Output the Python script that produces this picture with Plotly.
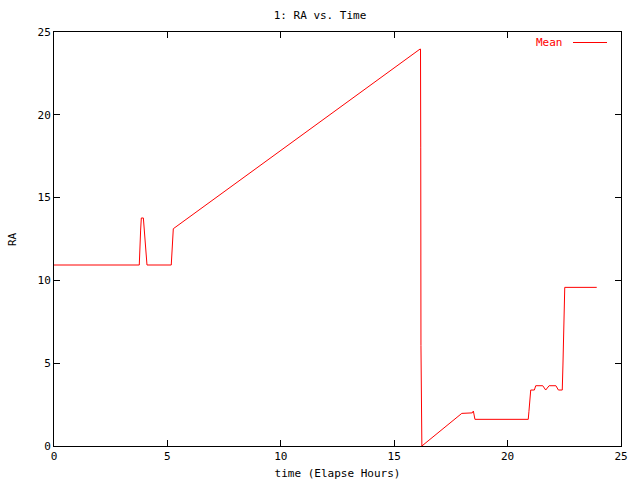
import plotly.graph_objects as go

time_h = [0.0, 3.76, 3.82, 3.85, 3.94, 3.98, 4.10, 5.17, 5.19, 5.26,
          16.14, 16.16, 16.17, 16.18, 16.22,
          17.98, 18.44, 18.49, 18.56, 20.91, 20.94, 20.99, 21.02, 21.18,
          21.24, 21.55, 21.68, 21.83, 22.13, 22.24, 22.41, 22.44, 22.49,
          22.52, 23.93]
ra_mean = [10.93, 10.93, 13.04, 13.77, 13.77, 13.04, 10.93, 10.93, 11.41, 13.12,
           23.97, 23.97, 18.0, 6.07, 0.0,
           1.97, 2.0, 2.11, 1.61, 1.61, 2.07, 2.92, 3.38, 3.38,
           3.64, 3.64, 3.38, 3.64, 3.64, 3.38, 3.38, 4.89, 8.05,
           9.58, 9.58]

x_ticks = [0, 5, 10, 15, 20, 25]
y_ticks = [0, 5, 10, 15, 20, 25]
series_name = "Mean"

font_family = "DejaVu Sans Mono"
red = "#ff0000"

fig = go.Figure()
fig.add_trace(go.Scatter(x=time_h, y=ra_mean, mode="lines", name=series_name,
                         line=dict(color=red, width=1), showlegend=False))

axis_common = dict(showgrid=False, zeroline=False, showline=True, mirror="ticks",
                   linecolor="black", linewidth=1, ticks="inside", ticklen=6,
                   tickcolor="black", tickwidth=1, automargin=False,
                   tickfont=dict(family=font_family, size=11, color="black"))

fig.update_layout(
    width=640, height=480,
    margin=dict(l=54, r=19, t=32, b=34),
    paper_bgcolor="white", plot_bgcolor="white",
    title=dict(text="1: RA vs. Time", x=0.5, xanchor="center", y=0.968, yanchor="middle",
               yref="container", font=dict(family=font_family, size=11, color="black")),
    xaxis=dict(range=[0, 25], tickvals=x_ticks,
               title=dict(text="time (Elapse Hours)", standoff=8,
                          font=dict(family=font_family, size=11, color="black")),
               **axis_common),
    yaxis=dict(range=[0, 25], tickvals=y_ticks, **axis_common),
    showlegend=False,
)

# y-axis title placed like gnuplot's
fig.add_annotation(xref="x domain", yref="y domain", x=(12 - 54) / 567, y=0.5,
                   text="RA", textangle=-90, showarrow=False,
                   xanchor="center", yanchor="middle",
                   font=dict(family=font_family, size=11, color="black"))

# legend key in gnuplot style: label followed by a line sample
key_y = 1 - (42.5 - 32) / 414
fig.add_annotation(xref="x domain", yref="y domain", x=(565 - 54) / 567, y=key_y,
                   text=series_name, showarrow=False, xanchor="right", yanchor="middle",
                   font=dict(family=font_family, size=11, color=red))
fig.add_shape(type="line", xref="x domain", yref="y domain",
              x0=(573 - 54) / 567, x1=(607 - 54) / 567, y0=key_y, y1=key_y,
              line=dict(color=red, width=1))

fig.write_html("out.html", config={"displayModeBar": False},
               post_script="document.body.style.margin='0px';document.body.style.overflow='hidden';")
